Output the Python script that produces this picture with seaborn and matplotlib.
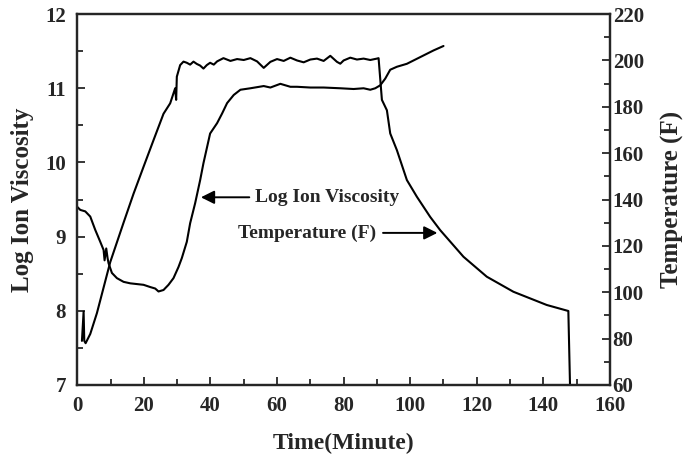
import pandas as pd
import seaborn as sns
import matplotlib.pyplot as plt
from matplotlib.ticker import MultipleLocator

# =========================
# Data
# =========================
# temperature trace (right axis, F)
temp_time = [1.4, 1.9, 2.1, 2.5, 3.9, 5.9, 7.9, 9.9, 13.9, 16.9, 20.0, 23.0, 25.9,
             27.9, 29.4, 29.7, 29.9, 30.9, 31.9, 32.9, 33.9, 34.9, 35.9, 36.9, 37.9,
             38.9, 39.9, 41.0, 42.0, 43.9, 46.0, 48.0, 50.0, 52.0, 54.0, 56.0, 58.0,
             60.0, 62.0, 64.0, 66.0, 68.0, 70.0, 72.0, 74.0, 76.0, 78.0, 79.0, 80.0,
             82.0, 84.0, 86.0, 88.0, 90.0, 90.5, 91.0, 91.5, 93.0, 94.0, 96.0, 99.0,
             102.0, 106.0, 109.0, 116.0, 123.0, 131.0, 141.0, 147.5, 148.0]
temp_vals = [79.0, 91.6, 79.0, 78.0, 82.0, 91.0, 102.0, 113.0, 130.0, 142.5, 154.5, 166.0, 177.0,
             181.5, 188.0, 183.0, 193.0, 198.0, 199.5, 199.0, 198.2, 199.5, 198.5, 197.8, 196.5,
             198.0, 199.0, 198.2, 199.6, 201.0, 199.8, 200.6, 200.2, 201.0, 199.6, 196.8, 199.4,
             200.6, 199.8, 201.2, 200.0, 199.2, 200.4, 200.8, 199.8, 202.0, 199.4, 198.6, 200.0,
             201.2, 200.4, 200.8, 200.2, 200.8, 201.0, 192.0, 183.0, 178.5, 168.5, 161.3, 148.4,
             141.2, 132.5, 126.8, 115.3, 106.7, 100.2, 94.5, 91.9, 60.0]

# log ion viscosity trace (left axis)
visc_time = [0.0, 0.9, 2.4, 3.9, 5.4, 6.9, 7.9, 8.2, 8.7, 9.1, 9.4, 10.4, 11.9, 13.9,
             15.9, 17.9, 19.9, 21.9, 23.4, 24.4, 25.9, 27.4, 28.9, 30.4, 31.4, 32.9,
             33.9, 35.4, 36.9, 37.9, 39.9, 42.0, 43.5, 45.0, 47.0, 49.0, 52.0, 56.0,
             58.0, 61.0, 64.0, 66.0, 70.0, 74.0, 79.0, 83.0, 86.0, 88.0, 89.5, 91.0,
             92.5, 94.0, 96.0, 99.0, 103.0, 107.0, 110.0]
visc_vals = [9.40, 9.36, 9.34, 9.27, 9.09, 8.93, 8.82, 8.68, 8.84, 8.71, 8.64, 8.51, 8.44, 8.39,
             8.37, 8.36, 8.35, 8.32, 8.30, 8.26, 8.28, 8.35, 8.44, 8.59, 8.71, 8.93,
             9.18, 9.45, 9.76, 9.99, 10.39, 10.53, 10.66, 10.80, 10.91, 10.98, 11.00, 11.03,
             11.01, 11.06, 11.02, 11.02, 11.01, 11.01, 11.00, 10.99, 11.00, 10.98, 11.00, 11.04,
             11.13, 11.25, 11.29, 11.33, 11.42, 11.51, 11.57]

df_temp = pd.DataFrame({"time": temp_time, "temp": temp_vals})
df_visc = pd.DataFrame({"time": visc_time, "visc": visc_vals})

# =========================
# Plot
# =========================
sns.set_theme(style="ticks")
plt.rcParams["font.family"] = ["Liberation Serif", "DejaVu Serif"]
plt.rcParams["font.weight"] = "bold"

fig, ax = plt.subplots(figsize=(6.9, 4.55), dpi=100)
fig.subplots_adjust(left=0.112, right=0.884, bottom=0.154, top=0.969)
ax2 = ax.twinx()

sns.lineplot(data=df_visc, x="time", y="visc", ax=ax, color="black",
             linewidth=1.5, sort=False, estimator=None)
sns.lineplot(data=df_temp, x="time", y="temp", ax=ax2, color="black",
             linewidth=1.5, sort=False, estimator=None)

ax.set_xlim(0, 160)
ax.set_ylim(7, 12)
ax2.set_ylim(60, 220)

ax.xaxis.set_major_locator(MultipleLocator(20))
ax.xaxis.set_minor_locator(MultipleLocator(10))
ax.yaxis.set_major_locator(MultipleLocator(1))
ax.yaxis.set_minor_locator(MultipleLocator(0.5))
ax2.yaxis.set_major_locator(MultipleLocator(20))
ax2.yaxis.set_minor_locator(MultipleLocator(10))

for a in (ax, ax2):
    a.tick_params(which="both", direction="in", width=1.3, labelsize=15)
    a.tick_params(which="major", length=6)
    a.tick_params(which="minor", length=4)
    for s in a.spines.values():
        s.set_linewidth(1.6)
        s.set_visible(True)
ax.tick_params(axis="y", pad=8)
ax2.tick_params(axis="y", pad=2)
ax.tick_params(axis="x", pad=8)

ax.set_xlabel("Time(Minute)", fontsize=17, fontweight="bold", labelpad=12)
ax.set_ylabel("Log Ion Viscosity", fontsize=18, fontweight="bold", labelpad=8)
ax2.set_ylabel("Temperature (F)", fontsize=18, fontweight="bold", labelpad=12)

# arrows with labels
ax.annotate("", xy=(36.3, 9.53), xytext=(52.5, 9.53),
            arrowprops=dict(arrowstyle="-|>", color="black", lw=1.4,
                            mutation_scale=20))
ax.text(53.5, 9.53, "Log Ion Viscosity", fontsize=14, fontweight="bold",
        va="center", ha="left")
ax.annotate("", xy=(109.0, 9.05), xytext=(91.0, 9.05),
            arrowprops=dict(arrowstyle="-|>", color="black", lw=1.4,
                            mutation_scale=20))
ax.text(89.8, 9.05, "Temperature (F)", fontsize=14, fontweight="bold",
        va="center", ha="right")

plt.savefig("out.png", dpi=100)
